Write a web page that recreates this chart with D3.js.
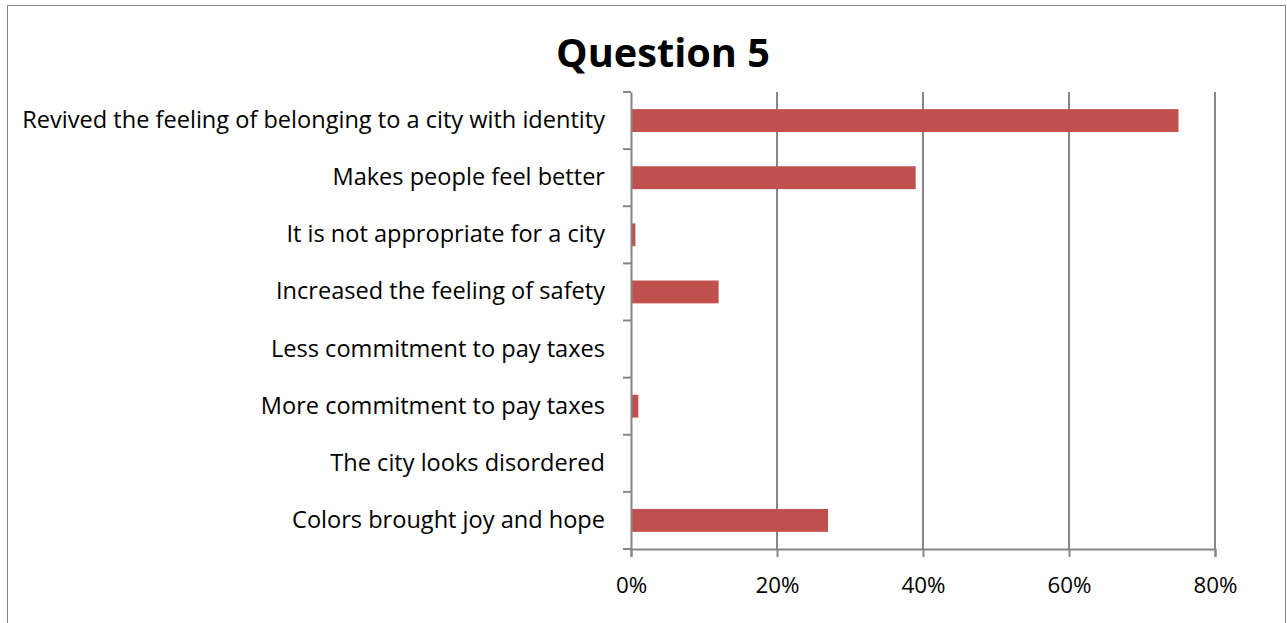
<!DOCTYPE html>
<html>
<head>
<meta charset="utf-8">
<script src="https://cdn.jsdelivr.net/npm/d3@7"></script>
<style>
  body { margin: 0; background: #fff; }
  text { font-family: "Open Sans", Lato, sans-serif; fill: #000; }
</style>
</head>
<body>
<div id="chart"></div>
<script>
// answers, top to bottom as shown
const categories = [
    "Revived the feeling of belonging to a city with identity",
    "Makes people feel better",
    "It is not appropriate for a city",
    "Increased the feeling of safety",
    "Less commitment to pay taxes",
    "More commitment to pay taxes",
    "The city looks disordered",
    "Colors brought joy and hope"
];
const values = [0.75, 0.39, 0.006, 0.12, 0, 0.01, 0, 0.27];
const xTicks = [0, 0.2, 0.4, 0.6, 0.8];
const title = "Question 5";

const width = 1287, height = 623;
const margin = { top: 92, right: 72, bottom: 74, left: 631 };

const svg = d3.select("#chart")
    .append("svg")
    .attr("width", width)
    .attr("height", height);

// chart frame
svg.append("rect")
    .attr("x", 7.5).attr("y", 5.5)
    .attr("width", 1278).attr("height", 640)
    .attr("fill", "none")
    .attr("stroke", "#868686");

// scale a text's font so it fills the width seen in the picture
const fitFont = (sel, base, target) => {
    sel.style("font-size", base + "px");
    const w = sel.node().getComputedTextLength();
    const size = base * target / w;
    return size;
};

const titleText = svg.append("text")
    .attr("x", 663)
    .attr("y", 67)
    .attr("text-anchor", "middle")
    .style("font-weight", "bold")
    .text(title);
titleText.style("font-size", fitFont(titleText, 36, 214) + "px");

const x = d3.scaleLinear()
    .domain([0, 0.8])
    .range([margin.left, width - margin.right]);

const y = d3.scaleBand()
    .domain(categories)
    .range([margin.top, height - margin.bottom])
    .paddingInner(0.6)
    .paddingOuter(0.3);

const step = (height - margin.bottom - margin.top) / categories.length;

// vertical gridlines
svg.append("g")
    .selectAll("line")
    .data(xTicks.slice(1))
    .join("line")
    .attr("x1", d => x(d)).attr("x2", d => x(d))
    .attr("y1", margin.top).attr("y2", height - margin.bottom)
    .attr("stroke", "#868686")
    .attr("stroke-width", 2);

// bars
svg.append("g")
    .selectAll("rect")
    .data(values)
    .join("rect")
    .attr("x", x(0))
    .attr("y", (d, i) => y(categories[i]))
    .attr("width", d => x(d) - x(0))
    .attr("height", y.bandwidth())
    .attr("fill", "#C0504D");

// x axis
const xAxis = svg.append("g")
    .attr("transform", `translate(0,${height - margin.bottom})`)
    .call(d3.axisBottom(x).tickValues(xTicks).tickFormat(d3.format(".0%")).tickSizeOuter(0).tickSize(8).tickPadding(20));
xAxis.select(".domain").attr("stroke", "#868686").attr("stroke-width", 2);
xAxis.selectAll(".tick line").attr("stroke", "#868686").attr("stroke-width", 2);
const lastTick = xAxis.selectAll("text").filter(d => d === 0.8);
const tickSize = fitFont(lastTick, 20, 44);
xAxis.selectAll("text").style("font-size", tickSize + "px");

// y axis
const yAxis = svg.append("g")
    .attr("transform", `translate(${margin.left},0)`)
    .call(d3.axisLeft(y).tickSize(0).tickSizeOuter(0).tickPadding(26));
yAxis.select(".domain").attr("stroke", "#868686").attr("stroke-width", 2);
const longest = yAxis.selectAll("text").filter(d => d === categories[0]);
const labelSize = fitFont(longest, 20, 583);
yAxis.selectAll("text").style("font-size", labelSize + "px");

// category separator ticks
svg.append("g")
    .selectAll("line")
    .data(d3.range(categories.length + 1))
    .join("line")
    .attr("x1", margin.left - 8).attr("x2", margin.left)
    .attr("y1", i => margin.top + i * step)
    .attr("y2", i => margin.top + i * step)
    .attr("stroke", "#868686")
    .attr("stroke-width", 2);
</script>
</body>
</html>
